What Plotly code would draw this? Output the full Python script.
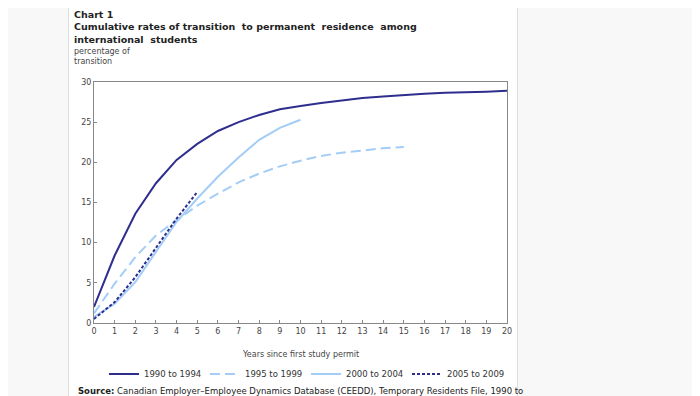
import plotly.graph_objects as go

years = list(range(0, 21))
s1990 = [2.0, 8.4, 13.6, 17.4, 20.3, 22.3, 23.9, 25.0, 25.9, 26.6, 27.0,
         27.4, 27.7, 28.0, 28.2, 28.4, 28.55, 28.65, 28.7, 28.8, 28.9]
s1995 = [1.2, 4.9, 8.2, 10.9, 12.8, 14.6, 16.1, 17.5, 18.6, 19.5, 20.2,
         20.8, 21.2, 21.5, 21.75, 21.9]
s2000 = [0.75, 2.4, 5.1, 8.9, 12.6, 15.5, 18.2, 20.6, 22.8, 24.3, 25.3]
s2005 = [0.5, 2.6, 5.7, 9.3, 13.0, 16.3]

series_names = ["1990 to 1994", "1995 to 1999", "2000 to 2004", "2005 to 2009"]
x_ticks = list(range(0, 21))
y_ticks = [0, 5, 10, 15, 20, 25, 30]

# the page body has an 8px margin, so the figure starts at (8, 8) on screen
OFF = 8
W, H = 700, 396
NAVY = "#2e2e8f"
LIGHT = "#a3cdf7"
FONT = "DejaVu Sans"

def px(x):
    return (x - OFF) / W

def py(y):
    return 1 - (y - OFF) / H

fig = go.Figure()
fig.add_trace(go.Scatter(x=years[:len(s1990)], y=s1990, name=series_names[0], mode="lines",
                         line=dict(color=NAVY, width=2)))
fig.add_trace(go.Scatter(x=years[:len(s1995)], y=s1995, name=series_names[1], mode="lines",
                         line=dict(color=LIGHT, width=2, dash="10px,5px")))
fig.add_trace(go.Scatter(x=years[:len(s2000)], y=s2000, name=series_names[2], mode="lines",
                         line=dict(color=LIGHT, width=2)))
fig.add_trace(go.Scatter(x=years[:len(s2005)], y=s2005, name=series_names[3], mode="lines",
                         line=dict(color=NAVY, width=2, dash="3px,2px")))

axis_common = dict(showgrid=False, zeroline=False, showline=True, linecolor="#888888",
                   linewidth=1, mirror=True, ticks="inside", ticklen=3, tickcolor="#888888",
                   automargin=False, tickfont=dict(family=FONT, size=8, color="#444444"))

fig.update_layout(
    width=W, height=H,
    margin=dict(l=0, r=0, t=0, b=0, autoexpand=False),
    paper_bgcolor="#f8f8f8",
    plot_bgcolor="white",
    showlegend=True,
    xaxis=dict(range=[0, 20], tickvals=x_ticks, domain=[px(94), px(507)], **axis_common),
    yaxis=dict(range=[0, 30], tickvals=y_ticks, domain=[py(323), py(82)], **axis_common),
    legend=dict(orientation="h", x=px(306), xanchor="center", y=py(374), yanchor="middle",
                font=dict(family=FONT, size=8.5, color="#333333"),
                entrywidth=56, bgcolor="rgba(0,0,0,0)", itemwidth=30),
    shapes=[
        dict(type="rect", xref="paper", yref="paper", x0=px(68.5), x1=px(517.5), y0=-0.1, y1=1.1,
             fillcolor="white", line=dict(color="#dddddd", width=1), layer="below"),
    ],
    annotations=[
        dict(text="<b>Chart 1<br>Cumulative rates of transition  to permanent  residence  among<br>international  students</b>",
             x=px(73), y=py(26.5), xref="paper", yref="paper", xanchor="left", yanchor="middle",
             showarrow=False, align="left", borderpad=0,
             font=dict(family=FONT, size=9.5, color="#222222")),
        dict(text="percentage of<br>transition", x=px(73), y=py(56), xref="paper", yref="paper",
             xanchor="left", yanchor="middle", showarrow=False, align="left", borderpad=0,
             font=dict(family=FONT, size=8, color="#444444")),
        dict(text="Years since first study permit", x=px(300), y=py(354.5), xref="paper", yref="paper",
             xanchor="center", yanchor="middle", showarrow=False,
             font=dict(family=FONT, size=8, color="#444444")),
        dict(text="<b>Source:</b> Canadian Employer–Employee Dynamics Database (CEEDD), Temporary Residents File, 1990 to",
             x=px(76), y=py(391), xref="paper", yref="paper", xanchor="left", yanchor="middle",
             showarrow=False, align="left",
             font=dict(family=FONT, size=8.5, color="#222222")),
    ],
)

fig.write_html("out.html")
